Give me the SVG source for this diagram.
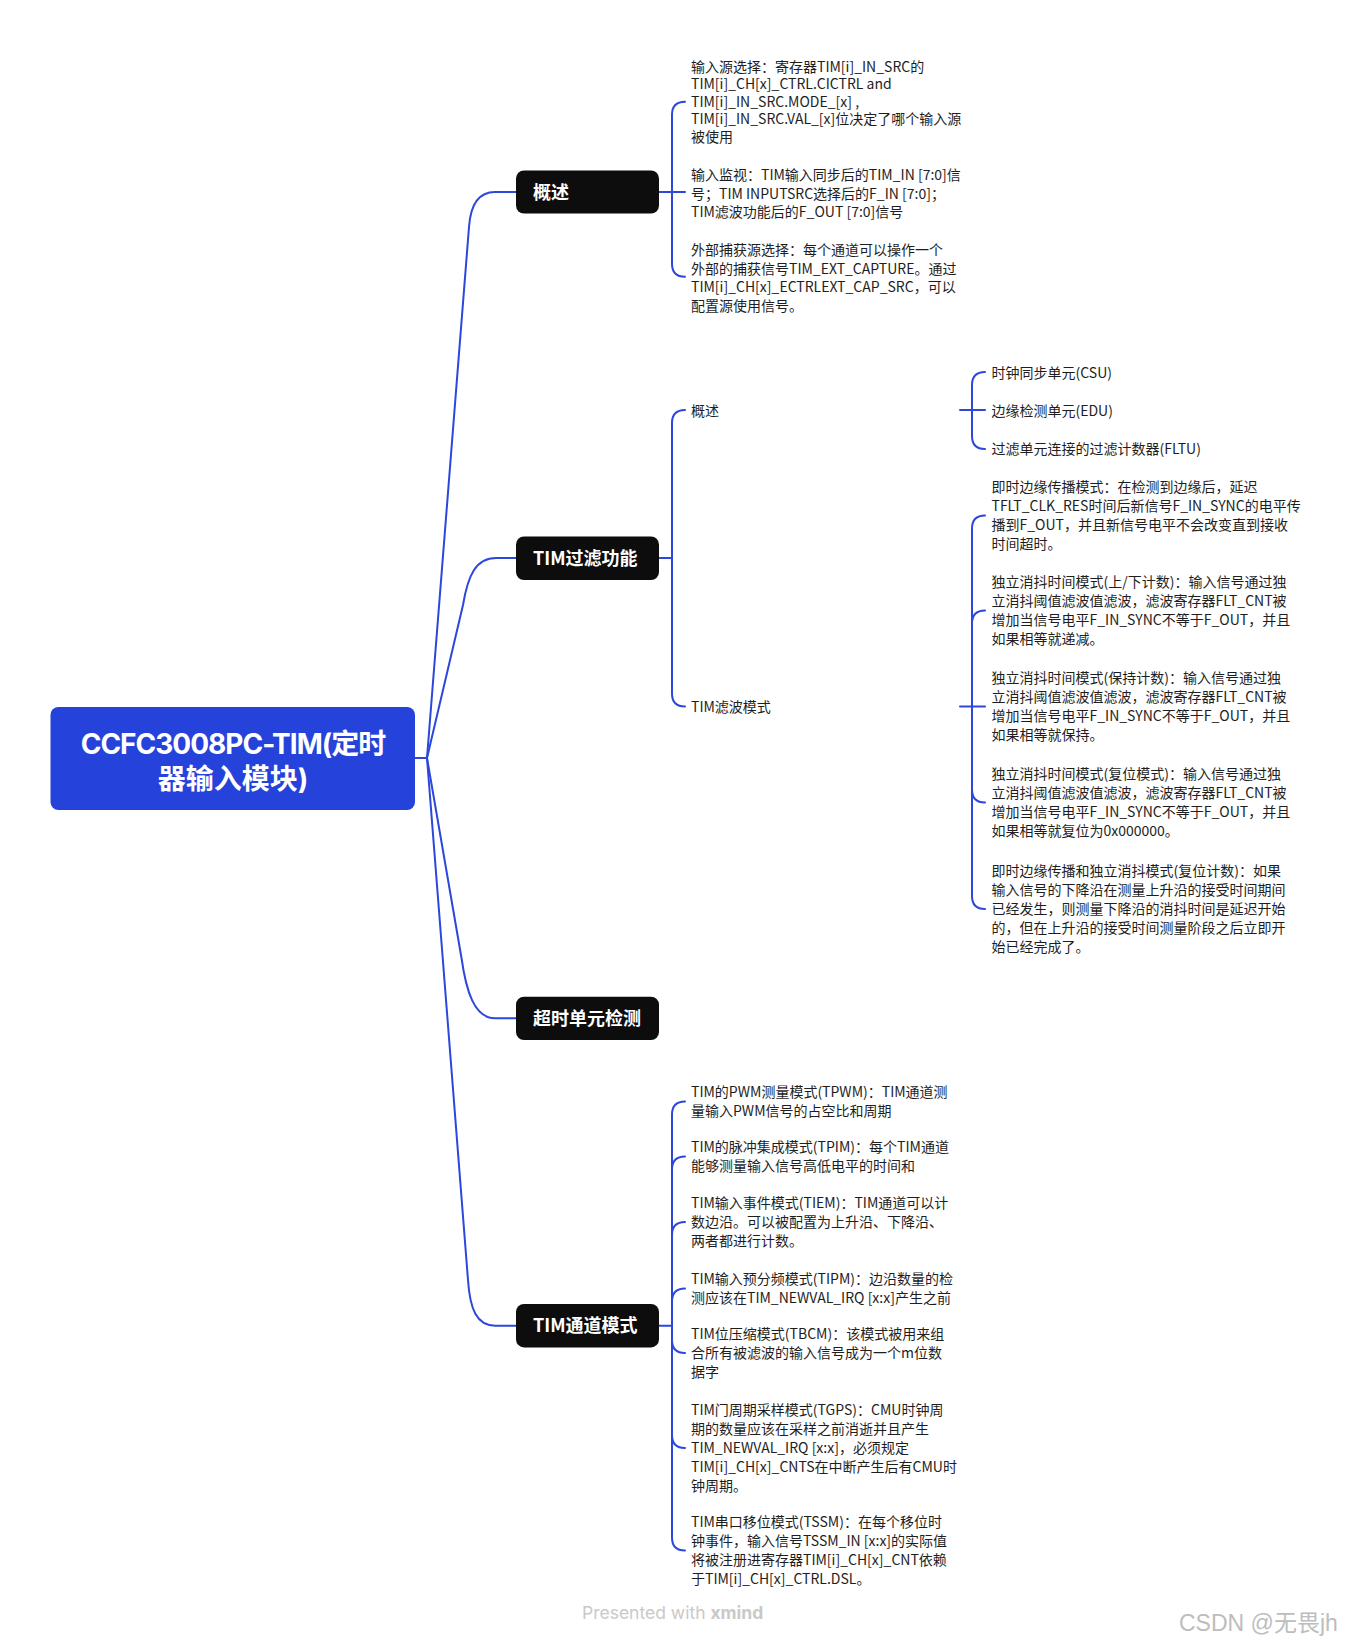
<svg xmlns="http://www.w3.org/2000/svg" width="1348" height="1645" viewBox="0 0 1348 1645">
<style>
.t{font-family:"Noto Sans CJK SC",sans-serif;font-size:14px;fill:#1e1e1e}
.b{font-family:"Noto Sans CJK SC",sans-serif;font-weight:bold;font-size:18px;fill:#ffffff}
.r{font-family:Inter,"Noto Sans CJK SC",sans-serif;font-weight:bold;font-size:28px;fill:#ffffff;text-anchor:middle}
.c{fill:none;stroke:#2B47DC;stroke-width:2;stroke-linecap:round}
.n{fill:#0d0d0d}
</style>
<rect width="1348" height="1645" fill="#ffffff"/>
<g id="connectors">
<path class="c" d="M415,758 H427"/>
<path class="c" d="M427,758 L469,227 C470.5,205 478,192 495,192 H516"/>
<path class="c" d="M427,758 L463,605 C468,575 476,558 496,558 H516"/>
<path class="c" d="M427,758 L461.5,958 C466,990 474,1018.3 495,1018.3 H516"/>
<path class="c" d="M427,758 L468,1280 C470,1310 477,1325.7 495,1325.7 H516"/>
<path class="c" d="M659,192 H685"/>
<path class="c" d="M672,192 V114.7 Q672,101.7 685,101.7"/>
<path class="c" d="M672,192 V263.7 Q672,276.7 685,276.7"/>
<path class="c" d="M659,558 H672"/>
<path class="c" d="M672,558 V423 Q672,410 685,410"/>
<path class="c" d="M672,558 V693.5 Q672,706.5 685,706.5"/>
<path class="c" d="M960,410 H985"/>
<path class="c" d="M972,410 V385 Q972,372 985,372"/>
<path class="c" d="M972,410 V436 Q972,449 985,449"/>
<path class="c" d="M960,706.5 H985"/>
<path class="c" d="M972,706.5 V528.5 Q972,515.5 985,515.5"/>
<path class="c" d="M972,706.5 V623.5 Q972,610.5 985,610.5"/>
<path class="c" d="M972,706.5 V789.5 Q972,802.5 985,802.5"/>
<path class="c" d="M972,706.5 V896 Q972,909 985,909"/>
<path class="c" d="M659,1325.7 H672"/>
<path class="c" d="M672,1325.7 V1114.5 Q672,1101.5 685,1101.5"/>
<path class="c" d="M672,1325.7 V1169.5 Q672,1156.5 685,1156.5"/>
<path class="c" d="M672,1325.7 V1235 Q672,1222 685,1222"/>
<path class="c" d="M672,1325.7 V1301.5 Q672,1288.5 685,1288.5"/>
<path class="c" d="M672,1325.7 V1340 Q672,1353 685,1353"/>
<path class="c" d="M672,1325.7 V1435 Q672,1448 685,1448"/>
<path class="c" d="M672,1325.7 V1537.5 Q672,1550.5 685,1550.5"/>
</g>
<g id="root">
<rect x="50.5" y="707" width="364.5" height="103" rx="8" fill="#2542DA"/>
<text class="r" x="233" y="754" style="letter-spacing:-1px">CCFC3008PC-TIM(定时</text>
<text class="r" x="233" y="789">器输入模块)</text>
</g>
<g id="b1">
<rect class="n" x="516" y="170.5" width="143" height="43" rx="8"/>
<text class="b" x="533" y="198.5">概述</text>
</g>
<g id="b1-items">
<text class="t"><tspan x="691" y="71.5">输入源选择：寄存器TIM[i]_IN_SRC的</tspan><tspan x="691" y="89">TIM[i]_CH[x]_CTRL.CICTRL and</tspan><tspan x="691" y="106.5">TIM[i]_IN_SRC.MODE_[x] ,</tspan><tspan x="691" y="124">TIM[i]_IN_SRC.VAL_[x]位决定了哪个输入源</tspan><tspan x="691" y="142">被使用</tspan></text>
<text class="t"><tspan x="691" y="180">输入监视：TIM输入同步后的TIM_IN [7:0]信</tspan><tspan x="691" y="198.5">号；TIM INPUTSRC选择后的F_IN [7:0]；</tspan><tspan x="691" y="217">TIM滤波功能后的F_OUT [7:0]信号</tspan></text>
<text class="t"><tspan x="691" y="255">外部捕获源选择：每个通道可以操作一个</tspan><tspan x="691" y="273.5">外部的捕获信号TIM_EXT_CAPTURE。通过</tspan><tspan x="691" y="292">TIM[i]_CH[x]_ECTRLEXT_CAP_SRC，可以</tspan><tspan x="691" y="310.5">配置源使用信号。</tspan></text>
</g>
<g id="b2">
<rect class="n" x="516" y="536.5" width="143" height="43.5" rx="8"/>
<text class="b" x="533" y="564.5">TIM过滤功能</text>
</g>
<g id="b2-overview">
<text class="t" x="691" y="416">概述</text>
</g>
<g id="b2-overview-items">
<text class="t" x="991.5" y="377.5">时钟同步单元(CSU)</text>
<text class="t" x="991.5" y="415.5">边缘检测单元(EDU)</text>
<text class="t" x="991.5" y="454">过滤单元连接的过滤计数器(FLTU)</text>
</g>
<g id="b2-mode">
<text class="t" x="691" y="711.5">TIM滤波模式</text>
</g>
<g id="b2-mode-items">
<text class="t"><tspan x="991.5" y="492">即时边缘传播模式：在检测到边缘后，延迟</tspan><tspan x="991.5" y="511">TFLT_CLK_RES时间后新信号F_IN_SYNC的电平传</tspan><tspan x="991.5" y="530">播到F_OUT，并且新信号电平不会改变直到接收</tspan><tspan x="991.5" y="549">时间超时。</tspan></text>
<text class="t"><tspan x="991.5" y="587">独立消抖时间模式(上/下计数)：输入信号通过独</tspan><tspan x="991.5" y="606">立消抖阈值滤波值滤波，滤波寄存器FLT_CNT被</tspan><tspan x="991.5" y="625">增加当信号电平F_IN_SYNC不等于F_OUT，并且</tspan><tspan x="991.5" y="644">如果相等就递减。</tspan></text>
<text class="t"><tspan x="991.5" y="683">独立消抖时间模式(保持计数)：输入信号通过独</tspan><tspan x="991.5" y="702">立消抖阈值滤波值滤波，滤波寄存器FLT_CNT被</tspan><tspan x="991.5" y="721">增加当信号电平F_IN_SYNC不等于F_OUT，并且</tspan><tspan x="991.5" y="740">如果相等就保持。</tspan></text>
<text class="t"><tspan x="991.5" y="779">独立消抖时间模式(复位模式)：输入信号通过独</tspan><tspan x="991.5" y="798">立消抖阈值滤波值滤波，滤波寄存器FLT_CNT被</tspan><tspan x="991.5" y="817">增加当信号电平F_IN_SYNC不等于F_OUT，并且</tspan><tspan x="991.5" y="836">如果相等就复位为0x000000。</tspan></text>
<text class="t"><tspan x="991.5" y="876">即时边缘传播和独立消抖模式(复位计数)：如果</tspan><tspan x="991.5" y="895">输入信号的下降沿在测量上升沿的接受时间期间</tspan><tspan x="991.5" y="914">已经发生，则测量下降沿的消抖时间是延迟开始</tspan><tspan x="991.5" y="933">的，但在上升沿的接受时间测量阶段之后立即开</tspan><tspan x="991.5" y="952">始已经完成了。</tspan></text>
</g>
<g id="b3">
<rect class="n" x="516" y="996.7" width="143" height="43.3" rx="8"/>
<text class="b" x="533" y="1024.8">超时单元检测</text>
</g>
<g id="b4">
<rect class="n" x="516" y="1304" width="143" height="43.4" rx="8"/>
<text class="b" x="533" y="1332.2">TIM通道模式</text>
</g>
<g id="b4-items">
<text class="t"><tspan x="691" y="1097">TIM的PWM测量模式(TPWM)：TIM通道测</tspan><tspan x="691" y="1116">量输入PWM信号的占空比和周期</tspan></text>
<text class="t"><tspan x="691" y="1152">TIM的脉冲集成模式(TPIM)：每个TIM通道</tspan><tspan x="691" y="1171">能够测量输入信号高低电平的时间和</tspan></text>
<text class="t"><tspan x="691" y="1208">TIM输入事件模式(TIEM)：TIM通道可以计</tspan><tspan x="691" y="1227">数边沿。可以被配置为上升沿、下降沿、</tspan><tspan x="691" y="1246">两者都进行计数。</tspan></text>
<text class="t"><tspan x="691" y="1284">TIM输入预分频模式(TIPM)：边沿数量的检</tspan><tspan x="691" y="1303">测应该在TIM_NEWVAL_IRQ [x:x]产生之前</tspan></text>
<text class="t"><tspan x="691" y="1339">TIM位压缩模式(TBCM)：该模式被用来组</tspan><tspan x="691" y="1358">合所有被滤波的输入信号成为一个m位数</tspan><tspan x="691" y="1377">据字</tspan></text>
<text class="t"><tspan x="691" y="1415">TIM门周期采样模式(TGPS)：CMU时钟周</tspan><tspan x="691" y="1434">期的数量应该在采样之前消逝并且产生</tspan><tspan x="691" y="1453">TIM_NEWVAL_IRQ [x:x]，必须规定</tspan><tspan x="691" y="1472">TIM[i]_CH[x]_CNTS在中断产生后有CMU时</tspan><tspan x="691" y="1491">钟周期。</tspan></text>
<text class="t"><tspan x="691" y="1527">TIM串口移位模式(TSSM)：在每个移位时</tspan><tspan x="691" y="1546">钟事件，输入信号TSSM_IN [x:x]的实际值</tspan><tspan x="691" y="1565">将被注册进寄存器TIM[i]_CH[x]_CNT依赖</tspan><tspan x="691" y="1584">于TIM[i]_CH[x]_CTRL.DSL。</tspan></text>
</g>
<g id="watermarks">
<text x="582" y="1619" style="font-family:Inter,sans-serif;font-size:17.5px;fill:#c9c9c9">Presented with <tspan style="font-weight:bold">xmind</tspan></text>
<text x="1179" y="1631" style="font-family:'Liberation Sans','Noto Sans CJK SC',sans-serif;font-size:23px;fill:#bdbdbd">CSDN @无畏jh</text>
</g>
</svg>
